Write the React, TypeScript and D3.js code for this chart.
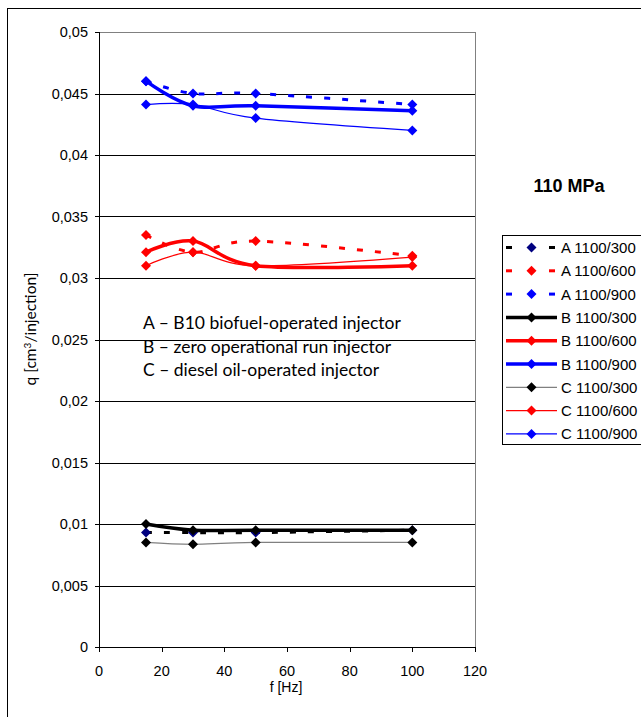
import React from 'react';
import * as d3 from 'd3';

// frequencies [Hz]
const freqs = [15, 30, 50, 100];

// q [cm3/injection], one list per series
const a300 = [0.0093, 0.0093, 0.0093, 0.0095];
const a600 = [0.0335, 0.0321, 0.033, 0.0318];
const a900 = [0.046, 0.045, 0.045, 0.0441];
const b300 = [0.01, 0.0095, 0.0095, 0.0095];
const b600 = [0.0321, 0.033, 0.031, 0.031];
const b900 = [0.046, 0.044, 0.044, 0.0436];
const c300 = [0.0085, 0.00835, 0.0085, 0.0085];
const c600 = [0.031, 0.0321, 0.031, 0.0317];
const c900 = [0.0441, 0.0441, 0.043, 0.042];

const seriesNames = ['A 1100/300', 'A 1100/600', 'A 1100/900', 'B 1100/300', 'B 1100/600', 'B 1100/900', 'C 1100/300', 'C 1100/600', 'C 1100/900'];
const seriesValues = [a300, a600, a900, b300, b600, b900, c300, c600, c900];

const yTicks = [0, 0.005, 0.01, 0.015, 0.02, 0.025, 0.03, 0.035, 0.04, 0.045, 0.05];
const xTicks = [0, 20, 40, 60, 80, 100, 120];

const notes = ['A – B10 biofuel-operated injector', 'B – zero operational run injector', 'C – diesel oil-operated injector'];

type Style = { line: string; marker: string; width: number; dash?: string };

function styleFor(i: number): Style {
  const col = ['#000000', '#ff0000', '#0000ff'][i % 3];
  const group = Math.floor(i / 3);
  if (group === 0) return { line: col, marker: i === 0 ? '#000080' : col, width: 3, dash: '6,12' };
  if (group === 1) return { line: col, marker: col, width: 3.5 };
  return { line: i === 6 ? '#808080' : col, marker: col, width: 1.2 };
}

const diamond = (cx: number, cy: number, r: number) =>
  `M${cx},${cy - r}L${cx + r},${cy}L${cx},${cy + r}L${cx - r},${cy}Z`;

export default function App() {
  const x = d3.scaleLinear().domain([0, 120]).range([99, 475]);
  const y = d3.scaleLinear().domain([0, 0.05]).range([647, 32]);
  const fmt = (v: number) => String(+v.toFixed(3)).replace('.', ',');

  const line = d3.line<number>()
    .x((_, i) => x(freqs[i]))
    .y(d => y(d))
    .curve(d3.curveCardinal.tension(0));

  const axisFont = '"Liberation Sans", Arial, sans-serif';
  const legendY = (i: number) => 247.5 + i * 23.3;

  return (
    <div style={{ position: 'absolute', left: 0, top: 0 }}>
      <svg width={641} height={717} style={{ display: 'block' }}>
        <rect x={7.5} y={8.5} width={700} height={720} fill="#fff" stroke="#000" />

        {/* gridlines */}
        {yTicks.filter(t => t > 0 && t < 0.05).map(t => (
          <line key={t} x1={x(0)} x2={x(120)} y1={Math.round(y(t)) + 0.5} y2={Math.round(y(t)) + 0.5} stroke="#000" />
        ))}
        <rect x={x(0) + 0.5} y={y(0.05) + 0.5} width={x(120) - x(0)} height={y(0) - y(0.05)} fill="none" stroke="#808080" />

        {/* axes */}
        <line x1={x(0) + 0.5} x2={x(0) + 0.5} y1={y(0.05)} y2={y(0)} stroke="#000" />
        <line x1={x(0)} x2={x(120)} y1={y(0) + 0.5} y2={y(0) + 0.5} stroke="#000" />
        {yTicks.map(t => (
          <g key={t}>
            <line x1={x(0) - 4} x2={x(0)} y1={Math.round(y(t)) + 0.5} y2={Math.round(y(t)) + 0.5} stroke="#000" />
            <text x={88} y={y(t) + 5} textAnchor="end" fontFamily={axisFont} fontSize={14.5} fill="#000">{fmt(t)}</text>
          </g>
        ))}
        {xTicks.map(t => (
          <g key={t}>
            <line x1={Math.round(x(t)) + 0.5} x2={Math.round(x(t)) + 0.5} y1={y(0)} y2={y(0) + 5} stroke="#000" />
            <text x={x(t)} y={676} textAnchor="middle" fontFamily={axisFont} fontSize={14.5} fill="#000">{t}</text>
          </g>
        ))}
        <text x={286} y={692} textAnchor="middle" fontFamily={axisFont} fontSize={14} fill="#000">f [Hz]</text>
        <text transform="translate(36,329) rotate(-90)" textAnchor="middle" fontFamily="Lato, sans-serif" fontSize={15.5} fill="#000">
          q [cm<tspan dy={-5} fontSize={10}>3</tspan><tspan dy={5}>/injection]</tspan>
        </text>

        {/* series */}
        {seriesValues.map((vals, i) => {
          const s = styleFor(i);
          return (
            <g key={seriesNames[i]}>
              <path d={line(vals) || ''} fill="none" stroke={s.line} strokeWidth={s.width} strokeDasharray={s.dash} />
              {vals.map((v, j) => (
                <path key={j} d={diamond(x(freqs[j]), y(v), 5)} fill={s.marker} />
              ))}
            </g>
          );
        })}

        {/* notes */}
        {notes.map((n, i) => (
          <text key={n} x={143} y={329 + i * 23.5} fontFamily="Lato, sans-serif" fontSize={17.5} fill="#000">{n}</text>
        ))}

        <text x={569} y={192} textAnchor="middle" fontFamily={axisFont} fontSize={18} fontWeight="bold" fill="#000">110 MPa</text>

        {/* legend */}
        <rect x={502.5} y={235.5} width={200} height={209} fill="#fff" stroke="#000" />
        {seriesNames.map((name, i) => {
          const s = styleFor(i);
          const ly = legendY(i);
          return (
            <g key={name}>
              {s.dash ? (
                <>
                  <line x1={506} x2={512} y1={ly} y2={ly} stroke={s.line} strokeWidth={s.width} />
                  <line x1={549} x2={555} y1={ly} y2={ly} stroke={s.line} strokeWidth={s.width} />
                </>
              ) : (
                <line x1={506} x2={557} y1={ly} y2={ly} stroke={s.line} strokeWidth={s.width} />
              )}
              <path d={diamond(531.5, ly, 5)} fill={s.marker} />
              <text x={561} y={ly + 5.5} fontFamily={axisFont} fontSize={15} fill="#000">{name}</text>
            </g>
          );
        })}
      </svg>
    </div>
  );
}
